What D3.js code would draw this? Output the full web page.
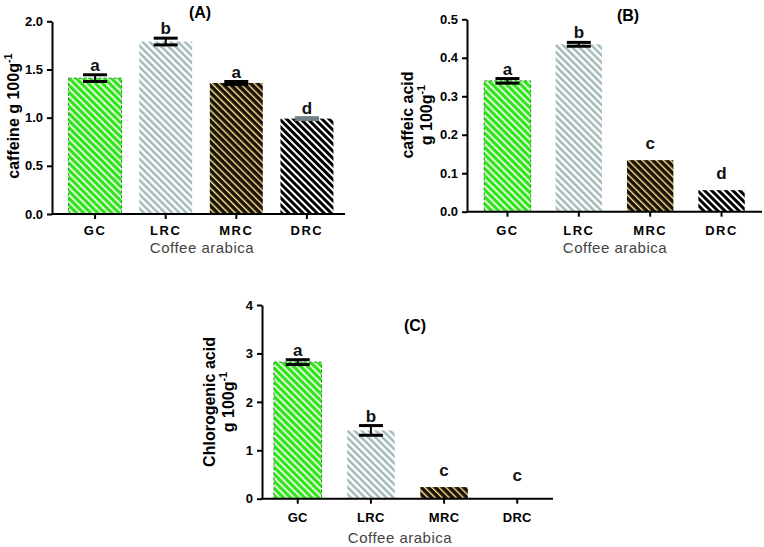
<!DOCTYPE html>
<html><head><meta charset="utf-8">
<script src="https://cdn.jsdelivr.net/npm/d3@7"></script>
<style>
html,body{margin:0;padding:0;background:#fff;}
svg{display:block;}
text{font-family:"Liberation Sans",Arial,sans-serif;}
</style></head>
<body>
<svg id="chart" width="764" height="547"></svg>
<script>
// ---------- data ----------
const categories = ["GC", "LRC", "MRC", "DRC"];

const caffeine = [1.41, 1.79, 1.36, 0.99];
const caffeineErr = [0.035, 0.035, 0.015, 0.01];
const caffeineLetters = ["a", "b", "a", "d"];
const caffeineTicks = [0.0, 0.5, 1.0, 1.5, 2.0];

const caffeicAcid = [0.34, 0.435, 0.134, 0.056];
const caffeicErr = [0.006, 0.005, 0, 0];
const caffeicLetters = ["a", "b", "c", "d"];
const caffeicTicks = [0.0, 0.1, 0.2, 0.3, 0.4, 0.5];

const chlorogenic = [2.82, 1.41, 0.24, 0];
const chlorogenicErr = [0.05, 0.1, 0, 0];
const chlorogenicLetters = ["a", "b", "c", "c"];
const chlorogenicTicks = [0, 1, 2, 3, 4];

const xTitle = "Coffee arabica";

// ---------- styles ----------
const svg = d3.select("#chart");
const defs = svg.append("defs");
const patterns = [
  {id: "pGC", base: "#2ee41a", stripe: "#dcf9d2", w: 2.0},
  {id: "pLRC", base: "#ffffff", stripe: "#a3b9b9", w: 2.5},
  {id: "pMRC", base: "#1c1106", stripe: "#f8e590", w: 1.4},
  {id: "pDRC", base: "#000000", stripe: "#ffffff", w: 2.0}
];
patterns.forEach(p => {
  const pat = defs.append("pattern").attr("id", p.id)
    .attr("patternUnits", "userSpaceOnUse").attr("width", 5).attr("height", 5)
    .attr("patternTransform", "rotate(-45)");
  pat.append("rect").attr("width", 5).attr("height", 5).attr("fill", p.base);
  pat.append("rect").attr("x", 0).attr("width", p.w).attr("height", 5).attr("fill", p.stripe);
});
const fillIds = ["pGC", "pLRC", "pMRC", "pDRC"];

function panel(cfg) {
  const g = svg.append("g");
  const x = d3.scaleBand().domain(categories).range(cfg.xRange)
    .paddingInner(cfg.pi).paddingOuter(cfg.po);
  const y = d3.scaleLinear().domain([0, cfg.max]).range([cfg.y0, cfg.y1]);

  // bars
  g.selectAll("rect.bar").data(categories).join("rect")
    .attr("class", "bar")
    .attr("x", d => x(d))
    .attr("width", x.bandwidth())
    .attr("y", (d, i) => y(cfg.values[i]))
    .attr("height", (d, i) => y(0) - y(cfg.values[i]))
    .attr("fill", (d, i) => `url(#${fillIds[i]})`)
    .attr("stroke", (d, i) => i === 0 ? "#1b9e16" : "none")
    .attr("stroke-width", 1)
    .attr("stroke-dasharray", "3,2");

  // error bars
  const capW = 24;
  categories.forEach((c, i) => {
    const e = cfg.errs[i];
    if (e <= 0) return;
    const cx = x(c) + x.bandwidth() / 2;
    const col = cfg.errCol ? cfg.errCol[i] : "#000";
    const yt = y(cfg.values[i] + e), yb = y(cfg.values[i] - e);
    g.append("line").attr("x1", cx).attr("x2", cx).attr("y1", yt).attr("y2", yb)
      .attr("stroke", col).attr("stroke-width", 2);
    [yt, yb].forEach(yy => g.append("line")
      .attr("x1", cx - capW / 2).attr("x2", cx + capW / 2)
      .attr("y1", yy).attr("y2", yy).attr("stroke", col).attr("stroke-width", 3));
  });

  // significance letters
  g.selectAll("text.sig").data(categories).join("text")
    .attr("class", "sig")
    .attr("x", d => x(d) + x.bandwidth() / 2)
    .attr("y", (d, i) => {
      const top = y(cfg.values[i] + cfg.errs[i]);
      const gap = cfg.errs[i] > 0 ? 4 : (cfg.values[i] > 0 ? 11 : 18);
      return top - gap;
    })
    .attr("text-anchor", "middle")
    .attr("font-size", 17).attr("font-weight", "bold").attr("fill", "#111")
    .text((d, i) => cfg.letters[i]);

  // y axis
  const ya = g.append("g").attr("transform", `translate(${cfg.axX},0)`)
    .call(d3.axisLeft(y).tickValues(cfg.ticks).tickFormat(cfg.fmt).tickSize(5).tickSizeOuter(0));
  ya.select(".domain").attr("stroke", "#000").attr("stroke-width", 2);
  ya.selectAll(".tick line").attr("stroke", "#000").attr("stroke-width", 2);
  ya.selectAll(".tick text").attr("font-size", 13).attr("font-weight", "bold")
    .attr("fill", "#000").attr("font-family", "Liberation Sans, Arial, sans-serif").attr("dx", "-1");

  // x axis
  const xa = g.append("g").attr("transform", `translate(0,${cfg.y0})`)
    .call(d3.axisBottom(x).tickSize(5).tickSizeOuter(0).tickPadding(cfg.xPad));
  xa.select(".domain").remove();
  xa.append("line").attr("x1", cfg.axX).attr("x2", cfg.xEnd).attr("y1", 0).attr("y2", 0)
    .attr("stroke", "#000").attr("stroke-width", 2);
  xa.selectAll(".tick line").attr("stroke", "#000").attr("stroke-width", 2);
  xa.selectAll(".tick text").attr("font-size", 13).attr("font-weight", "bold")
    .attr("fill", "#000").attr("letter-spacing", cfg.ls)
    .attr("font-family", "Liberation Sans, Arial, sans-serif");

  // x title
  g.append("text").attr("x", cfg.xtX).attr("y", cfg.xtY).attr("text-anchor", "middle")
    .attr("font-size", 15).attr("fill", "#444").attr("letter-spacing", 0.5).text(xTitle);

  // y title
  const yt = g.append("text").attr("text-anchor", "middle")
    .attr("transform", `translate(${cfg.ytX},${cfg.ytY}) rotate(-90)`)
    .attr("font-size", 16).attr("font-weight", "bold").attr("fill", "#000");
  cfg.yLines.forEach((ln, k) => {
    const t = yt.append("tspan").attr("x", 0).attr("dy", k === 0 ? 0 : 19);
    t.append("tspan").text(ln.main);
    if (ln.sup) t.append("tspan").attr("dy", -7).attr("font-size", 11).text(ln.sup);
  });

  // panel title
  g.append("text").attr("x", cfg.tX).attr("y", cfg.tY).attr("text-anchor", "middle")
    .attr("font-size", 16).attr("font-weight", "bold").attr("fill", "#000").text(cfg.title);
}

panel({
  values: caffeine, errs: caffeineErr, letters: caffeineLetters, ticks: caffeineTicks,
  fmt: d3.format(".1f"), max: 2.0, y0: 214, y1: 21.3,
  xRange: [58, 344], pi: 0.25, po: 0.15, axX: 52, xEnd: 345, xPad: 7, ls: 1.5,
  errCol: ["#000", "#000", "#000", "#6f7f84"],
  xtX: 202, xtY: 253, ytX: 19, ytY: 116,
  yLines: [{main: "caffeine g 100g", sup: "-1"}],
  title: "(A)", tX: 200, tY: 18
});

panel({
  values: caffeicAcid, errs: caffeicErr, letters: caffeicLetters, ticks: caffeicTicks,
  fmt: d3.format(".1f"), max: 0.5, y0: 211.7, y1: 19.3,
  xRange: [470, 759], pi: 0.35, po: 0.2, axX: 467, xEnd: 762, xPad: 9, ls: 1.5,
  xtX: 615, xtY: 253, ytX: 413, ytY: 115,
  yLines: [{main: "caffeic acid"}, {main: "g 100g", sup: "-1"}],
  title: "(B)", tX: 628, tY: 21
});

panel({
  values: chlorogenic, errs: chlorogenicErr, letters: chlorogenicLetters, ticks: chlorogenicTicks,
  fmt: d3.format("d"), max: 4, y0: 498.7, y1: 305,
  xRange: [263, 552], pi: 0.35, po: 0.15, axX: 262, xEnd: 553, xPad: 9, ls: 0.3,
  xtX: 400, xtY: 543, ytX: 215, ytY: 402,
  yLines: [{main: "Chlorogenic acid"}, {main: "g 100g", sup: "-1"}],
  title: "(C)", tX: 415, tY: 331
});
</script>
</body></html>
